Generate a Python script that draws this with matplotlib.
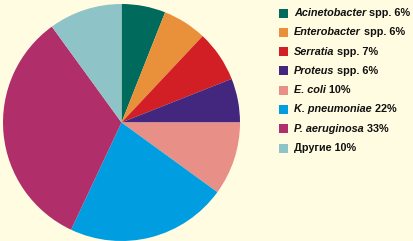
import matplotlib
matplotlib.use("Agg")
import matplotlib.pyplot as plt
from matplotlib.patches import Rectangle

# данные
names_italic = ["Acinetobacter", "Enterobacter", "Serratia", "Proteus",
                "E. coli", "K. pneumoniae", "P. aeruginosa", ""]
names_rest = [" spp. 6%", " spp. 6%", " spp. 7%", " spp. 6%",
              " 10%", " 22%", " 33%", "Другие 10%"]
values = [6, 6, 7, 6, 10, 22, 33, 10]
colors = ["#006b5c", "#e8903a", "#d21f26", "#43277f",
          "#e88f87", "#009ee0", "#b02f6a", "#8ec3c7"]

bg = "#fffce1"
W, H = 414, 241
fig = plt.figure(figsize=(W / 100, H / 100), dpi=100, facecolor=bg)

# круговая диаграмма
ax = fig.add_axes([3 / W, 0 / H, 237 / W, 237 / H])
ax.pie(values, colors=colors, startangle=90, counterclock=False,
       wedgeprops=dict(linewidth=0))
ax.set_xlim(-1, 1)
ax.set_ylim(-1, 1)
ax.set_aspect("equal")
ax.axis("off")

# легенда
fam = ["Liberation Sans Narrow", "Liberation Sans", "DejaVu Sans"]
fs = 7.8
renderer = fig.canvas.get_renderer()
y0 = 13
step = 19.3
for i in range(len(values)):
    yc = y0 + i * step
    fig.patches.append(Rectangle(((279) / W, 1 - (yc + 4.5) / H), 9 / W, 9 / H,
                                 transform=fig.transFigure, color=colors[i],
                                 linewidth=0))
    x = 294
    if names_italic[i]:
        t = fig.text(x / W, 1 - yc / H, names_italic[i], fontsize=fs,
                     fontweight="bold", fontstyle="italic", family=fam,
                     va="center", ha="left", color="#111111")
        bb = t.get_window_extent(renderer)
        x = x + bb.width
    fig.text(x / W, 1 - yc / H, names_rest[i], fontsize=fs,
             fontweight="bold", family=fam, va="center", ha="left",
             color="#111111")

fig.savefig("out.png", dpi=100, facecolor=bg)
